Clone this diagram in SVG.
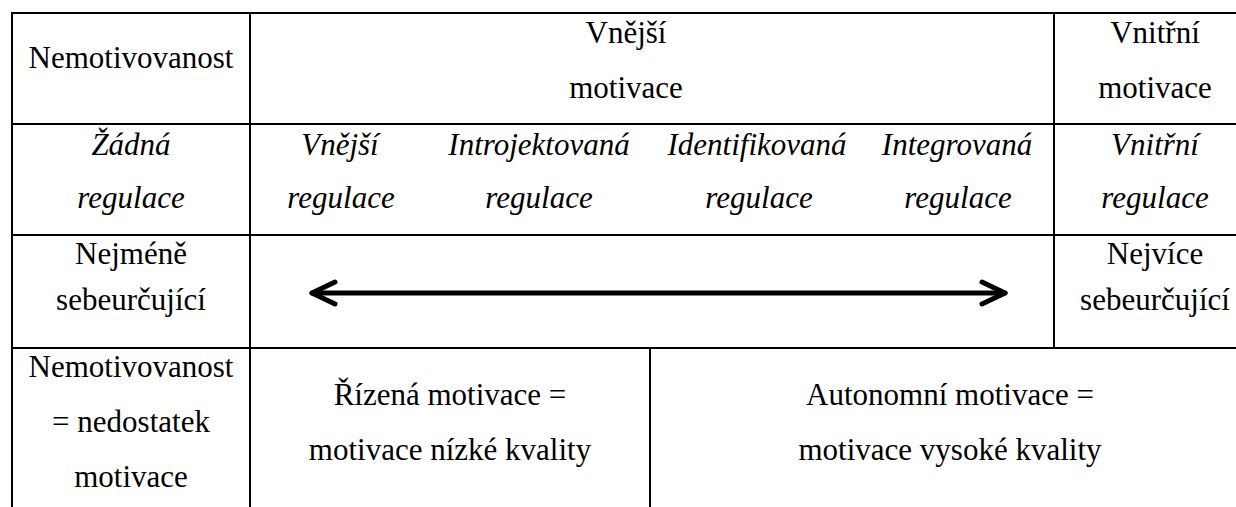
<svg xmlns="http://www.w3.org/2000/svg" width="1236" height="507" viewBox="0 0 1236 507">
<style>
  text { font-family: "Liberation Serif", serif !important; font-size: 31px !important; fill: #000; text-anchor: middle; }
  .it { font-style: italic !important; }
</style>
<defs>
  <marker id="ah" markerUnits="userSpaceOnUse" viewBox="-30 -16 34 32" refX="0" refY="0" markerWidth="34" markerHeight="32" orient="auto-start-reverse" overflow="visible">
    <path d="M-23,-11 L0,0 L-23,11" fill="none" stroke="#000" stroke-width="5" stroke-linecap="round" stroke-linejoin="round"/>
  </marker>
</defs>
<rect width="1236" height="507" fill="#fff"/>
<g id="grid" stroke="#000" stroke-width="2">
  <line x1="11" y1="13" x2="1236" y2="13"/>
  <line x1="11" y1="124" x2="1236" y2="124"/>
  <line x1="11" y1="235" x2="1236" y2="235"/>
  <line x1="11" y1="348" x2="1236" y2="348"/>
  <line x1="12" y1="12" x2="12" y2="507"/>
  <line x1="250" y1="12" x2="250" y2="507"/>
  <line x1="1054" y1="12" x2="1054" y2="348"/>
  <line x1="650" y1="348" x2="650" y2="507"/>
</g>
<g id="amotivation-header"><text font-family="Liberation Serif" x="131" y="68">Nemotivovanost</text></g>
<g id="extrinsic-header"><text font-family="Liberation Serif" x="626" y="43">Vnější</text><text font-family="Liberation Serif" x="626" y="98">motivace</text></g>
<g id="intrinsic-header"><text font-family="Liberation Serif" x="1155" y="43">Vnitřní</text><text font-family="Liberation Serif" x="1155" y="98">motivace</text></g>
<g id="no-regulation"><text class="it" font-family="Liberation Serif" font-style="italic" x="131" y="155">Žádná</text><text class="it" font-family="Liberation Serif" font-style="italic" x="131" y="208">regulace</text></g>
<g id="external-regulation"><text class="it" font-family="Liberation Serif" font-style="italic" x="340" y="155">Vnější</text><text class="it" font-family="Liberation Serif" font-style="italic" x="341" y="208">regulace</text></g>
<g id="introjected-regulation"><text class="it" font-family="Liberation Serif" font-style="italic" x="539" y="155">Introjektovaná</text><text class="it" font-family="Liberation Serif" font-style="italic" x="539" y="208">regulace</text></g>
<g id="identified-regulation"><text class="it" font-family="Liberation Serif" font-style="italic" x="757" y="155">Identifikovaná</text><text class="it" font-family="Liberation Serif" font-style="italic" x="759" y="208">regulace</text></g>
<g id="integrated-regulation"><text class="it" font-family="Liberation Serif" font-style="italic" x="957" y="155">Integrovaná</text><text class="it" font-family="Liberation Serif" font-style="italic" x="958" y="208">regulace</text></g>
<g id="intrinsic-regulation"><text class="it" font-family="Liberation Serif" font-style="italic" x="1155" y="155">Vnitřní</text><text class="it" font-family="Liberation Serif" font-style="italic" x="1155" y="208">regulace</text></g>
<g id="least-self-determined"><text font-family="Liberation Serif" x="131" y="264">Nejméně</text><text font-family="Liberation Serif" x="131" y="310">sebeurčující</text></g>
<g id="most-self-determined"><text font-family="Liberation Serif" x="1155" y="264">Nejvíce</text><text font-family="Liberation Serif" x="1155" y="310">sebeurčující</text></g>
<g id="amotivation-desc"><text font-family="Liberation Serif" x="131" y="377">Nemotivovanost</text><text font-family="Liberation Serif" x="131" y="432">= nedostatek</text><text font-family="Liberation Serif" x="131" y="487">motivace</text></g>
<g id="controlled-motivation"><text font-family="Liberation Serif" x="450" y="405">Řízená motivace =</text><text font-family="Liberation Serif" x="450" y="460">motivace nízké kvality</text></g>
<g id="autonomous-motivation"><text font-family="Liberation Serif" x="950" y="405">Autonomní motivace =</text><text font-family="Liberation Serif" x="950" y="460">motivace vysoké kvality</text></g>
<g id="connectors">
  <line x1="312" y1="293" x2="1005" y2="293" stroke="#000" stroke-width="5" stroke-linecap="round" marker-start="url(#ah)" marker-end="url(#ah)"/>
</g>
</svg>
